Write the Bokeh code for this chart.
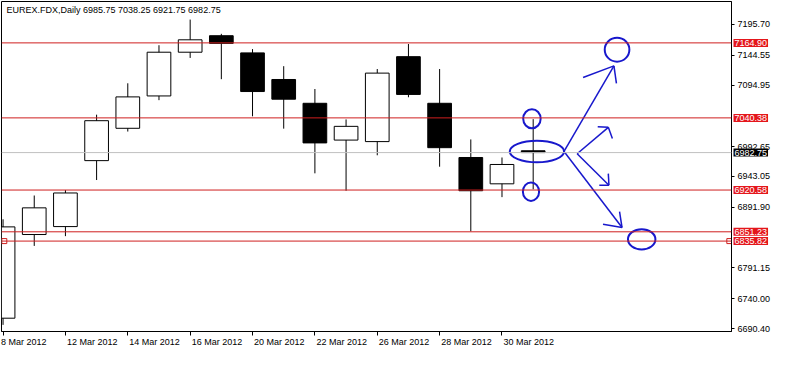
from bokeh.plotting import figure
from bokeh.models import Range1d, FixedTicker, Label, Span, ColumnDataSource
from bokeh.embed import file_html
from bokeh.resources import INLINE

# ---------------- data ----------------
title_text = "EUREX.FDX,Daily  6985.75 7038.25 6921.75 6982.75"

dates = ["8 Mar 2012", "9 Mar 2012", "12 Mar 2012", "13 Mar 2012", "14 Mar 2012",
         "15 Mar 2012", "16 Mar 2012", "19 Mar 2012", "20 Mar 2012", "21 Mar 2012",
         "22 Mar 2012", "23 Mar 2012", "26 Mar 2012", "27 Mar 2012", "28 Mar 2012",
         "29 Mar 2012", "30 Mar 2012", "2 Apr 2012"]
opens = [6707.8, 6846.7, 6859.9, 6969.4, 7023.1, 7076.8, 7149.4, 7176.8, 7148.3,
         7104.1, 7064.6, 7003.5, 7001.0, 7142.0, 7064.6, 6974.6, 6930.9, 6985.75]
highs = [6872.0, 6911.5, 6920.5, 7045.7, 7097.8, 7161.0, 7203.6, 7179.9, 7154.6,
         7126.2, 7088.3, 7037.8, 7121.5, 7163.0, 7121.5, 7004.6, 6974.6, 7038.25]
lows = [6696.7, 6827.8, 6844.0, 6937.2, 7017.7, 7069.8, 7139.9, 7104.6, 7043.0,
        7022.5, 6948.3, 6919.4, 6978.3, 7074.6, 6959.3, 6852.0, 6908.8, 6921.75]
closes = [6859.4, 6891.0, 6915.7, 7035.7, 7075.2, 7149.4, 7170.0, 7164.1, 7084.1,
          7071.4, 6998.8, 7026.3, 7114.7, 7079.3, 6990.9, 6919.4, 6963.0, 6982.75]

x_tick_idx = [0, 2, 4, 6, 8, 10, 12, 14, 16]
y_ticks = [7195.70, 7144.55, 7094.95, 6992.65, 6943.05, 6891.90, 6791.15, 6740.00, 6690.40]
y_tick_labels = ["7195.70", "7144.55", "7094.95", "6992.65", "6943.05", "6891.90",
                 "6791.15", "6740.00", "6690.40"]

level_prices = [7164.90, 7040.38, 6920.58, 6851.23, 6835.82]
last_price = 6982.75
selected_level = 6835.82

# hand-drawn blue annotations (bar index, price)
ell_x = [16.96, 17.12, 16.93, 19.69, 20.48]
ell_y = [7038.9, 6984.6, 6917.8, 7153.5, 6838.8]
ell_w = [0.56, 1.74, 0.52, 0.79, 0.88]
ell_h = [31.6, 35.8, 30.5, 39.5, 33.6]

arr_x0 = [17.99, 19.59, 19.59, 17.99, 19.85, 19.85, 18.41, 19.41, 19.41, 18.41, 19.43, 19.43]
arr_y0 = [6984.6, 7126.7, 7126.7, 6984.6, 6858.3, 6858.3, 6980.9, 7024.7, 7024.7, 6980.9, 6928.4, 6928.4]
arr_x1 = [19.59, 18.60, 19.67, 19.85, 19.24, 19.77, 19.41, 19.07, 19.54, 19.43, 19.12, 19.41]
arr_y1 = [7126.7, 7107.3, 7097.8, 6858.3, 6863.6, 6884.6, 7024.7, 7025.6, 7006.2, 6928.4, 6928.4, 6947.8]

# ---------------- styling ----------------
FONT = "Liberation Sans"
FS = "9px"
RED_LINE = "#cf1f1f"
RED_BOX = "#e4161b"
BLUE = "#1818cc"

X_START, X_END = -0.05, 23.36
Y_START, Y_END = 6685.7, 7233.6

p = figure(frame_width=730, frame_height=330,
           x_range=Range1d(X_START, X_END), y_range=Range1d(Y_START, Y_END),
           y_axis_location="right", output_backend="svg", toolbar_location=None,
           min_border_left=1, min_border_top=1, min_border_right=0, min_border_bottom=0)
p.background_fill_color = "white"
p.border_fill_color = "white"
p.outline_line_color = "black"
p.outline_line_width = 1
p.xgrid.visible = False
p.ygrid.visible = False

# x axis: tick marks at the bars (minor ticks), labels left-aligned at each tick
# (label centres shifted right by half a label width)
label_shift = [0.66 if i == 0 else 0.86 for i in x_tick_idx]
label_pos = [i + s for i, s in zip(x_tick_idx, label_shift)]
xa = p.xaxis[0]
xa.ticker = FixedTicker(ticks=label_pos, minor_ticks=x_tick_idx)
xa.major_label_overrides = {pos: dates[i] for pos, i in zip(label_pos, x_tick_idx)}
xa.major_label_text_font = FONT
xa.major_label_text_font_size = FS
xa.major_label_text_color = "black"
xa.major_label_standoff = 1
xa.major_tick_out = 0
xa.major_tick_in = 0
xa.minor_tick_out = 4
xa.minor_tick_in = 0
xa.minor_tick_line_color = "black"
xa.axis_line_color = "black"

ya = p.yaxis[0]
ya.ticker = FixedTicker(ticks=y_ticks)
ya.major_label_overrides = {v: s for v, s in zip(y_ticks, y_tick_labels)}
ya.major_label_text_font = FONT
ya.major_label_text_font_size = FS
ya.major_label_text_color = "black"
ya.major_tick_out = 3
ya.major_tick_in = 0
ya.minor_tick_out = 0
ya.minor_tick_in = 0
ya.major_label_standoff = 3
ya.axis_line_color = "black"

# horizontal levels
p.add_layout(Span(location=last_price, dimension="width", line_color="#c0c0c0", line_width=1))
for lv in level_prices:
    p.add_layout(Span(location=lv, dimension="width", line_color=RED_LINE, line_width=1))

# candles
idx = list(range(len(dates)))
tops = [max(o, c) for o, c in zip(opens, closes)]
bots = [min(o, c) for o, c in zip(opens, closes)]
fills = ["white" if c > o else "black" for o, c in zip(opens, closes)]
src = ColumnDataSource(dict(x=idx, high=highs, low=lows, top=tops, bottom=bots, fill=fills))
p.segment(x0="x", y0="high", x1="x", y1="low", source=src, line_color="black", line_width=1)
p.vbar(x="x", width=0.76, top="top", bottom="bottom", source=src,
       fill_color="fill", line_color="black", line_width=1)

# selected-line handles
p.scatter([X_START + 0.09, X_END - 0.07], [selected_level, selected_level], marker="square",
          size=5, fill_color="white", line_color=RED_LINE, line_width=1)

# blue annotations
p.ellipse(x=ell_x, y=ell_y, width=ell_w, height=ell_h, fill_color=None,
          line_color=BLUE, line_width=2)
p.segment(x0=arr_x0, y0=arr_y0, x1=arr_x1, y1=arr_y1, line_color=BLUE, line_width=1.5)

# price labels on right scale (placed in the side panel so they are not clipped)
for lv in level_prices:
    p.add_layout(Label(x=X_END, y=lv, x_offset=2, text=f"{lv:.2f}", text_color="white",
                       text_font=FONT, text_font_size=FS, text_baseline="middle",
                       text_align="left", background_fill_color=RED_BOX, padding=1), "right")
p.add_layout(Label(x=X_END, y=last_price, x_offset=2, text=f"{last_price:.2f}", text_color="white",
                   text_font=FONT, text_font_size=FS, text_baseline="middle",
                   text_align="left", background_fill_color="black", padding=1), "right")

# title inside chart
p.add_layout(Label(x=X_START, y=Y_END, x_offset=5, y_offset=-3, text=title_text,
                   text_color="black", text_font=FONT, text_font_size=FS,
                   text_baseline="top", text_align="left"))

open("out.html", "w").write(file_html(p, INLINE))
